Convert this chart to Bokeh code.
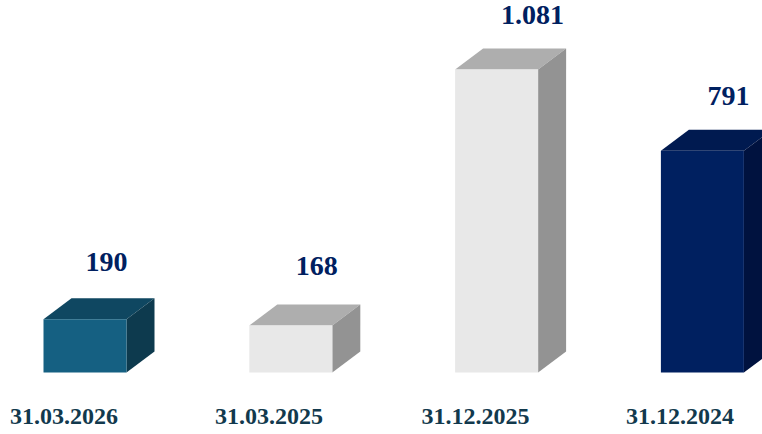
from bokeh.plotting import figure
from bokeh.models import Range1d
from bokeh.core.properties import value
from bokeh.embed import file_html
from bokeh.resources import INLINE

dates = ["31.03.2026", "31.03.2025", "31.12.2025", "31.12.2024"]
values = [190, 168, 1081, 791]
value_labels = ["190", "168", "1.081", "791"]
front_colors = ["#156082", "#e8e8e8", "#e8e8e8", "#002060"]
top_colors = ["#0f4761", "#aeaeae", "#aeaeae", "#001a50"]
side_colors = ["#0d3a4e", "#939393", "#939393", "#00123f"]
label_shift = [21.5, 26, 36, 26]
label_rise = [36, 38, 34, 34]
date_shift = [-21, -21.8, -21, -22.5]

W, H = 762, 434
px_x0, px_step = 84.5, 205.8
px_base, px_per_val = 372, 303 / 1081
half = 41.5
dx, dy = 28, 21

xr = Range1d(-px_x0 / px_step, (W - px_x0) / px_step)
yr = Range1d(-(H - px_base) / px_per_val, px_base / px_per_val)

p = figure(width=W, height=H, x_range=xr, y_range=yr, toolbar_location=None,
           output_backend="svg", min_border=0, outline_line_color=None,
           background_fill_color="white", border_fill_color="white")
p.axis.visible = False
p.grid.visible = False

xs = list(range(len(values)))
bw = 2 * half / px_step
ddx, ddy = dx / px_step, dy / px_per_val

for x, v, f, t, s in zip(xs, values, front_colors, top_colors, side_colors):
    l, r = x - bw / 2, x + bw / 2
    p.patch([l, r, r + ddx, l + ddx], [v, v, v + ddy, v + ddy], fill_color=t, line_color=None)
    p.patch([r, r + ddx, r + ddx, r], [0, ddy, v + ddy, v], fill_color=s, line_color=None)
p.vbar(x=xs, top=values, bottom=0, width=bw, fill_color=front_colors, line_color=None)

p.text(x=[x + sh / px_step for x, sh in zip(xs, label_shift)],
       y=[v + ddy + r / px_per_val for v, r in zip(values, label_rise)],
       text=value_labels, text_font=value("Liberation Serif"), text_font_style="bold",
       text_font_size="28px", text_color="#002060", text_align="center",
       text_baseline="middle")

date_y = -(416 - px_base) / px_per_val
p.text(x=[x + sh / px_step for x, sh in zip(xs, date_shift)], y=[date_y] * len(xs), text=dates,
       text_font=value("Liberation Serif"), text_font_style="bold",
       text_font_size="24px", text_color="#12394d", text_align="center",
       text_baseline="middle")

open("out.html", "w").write(file_html(p, INLINE))
